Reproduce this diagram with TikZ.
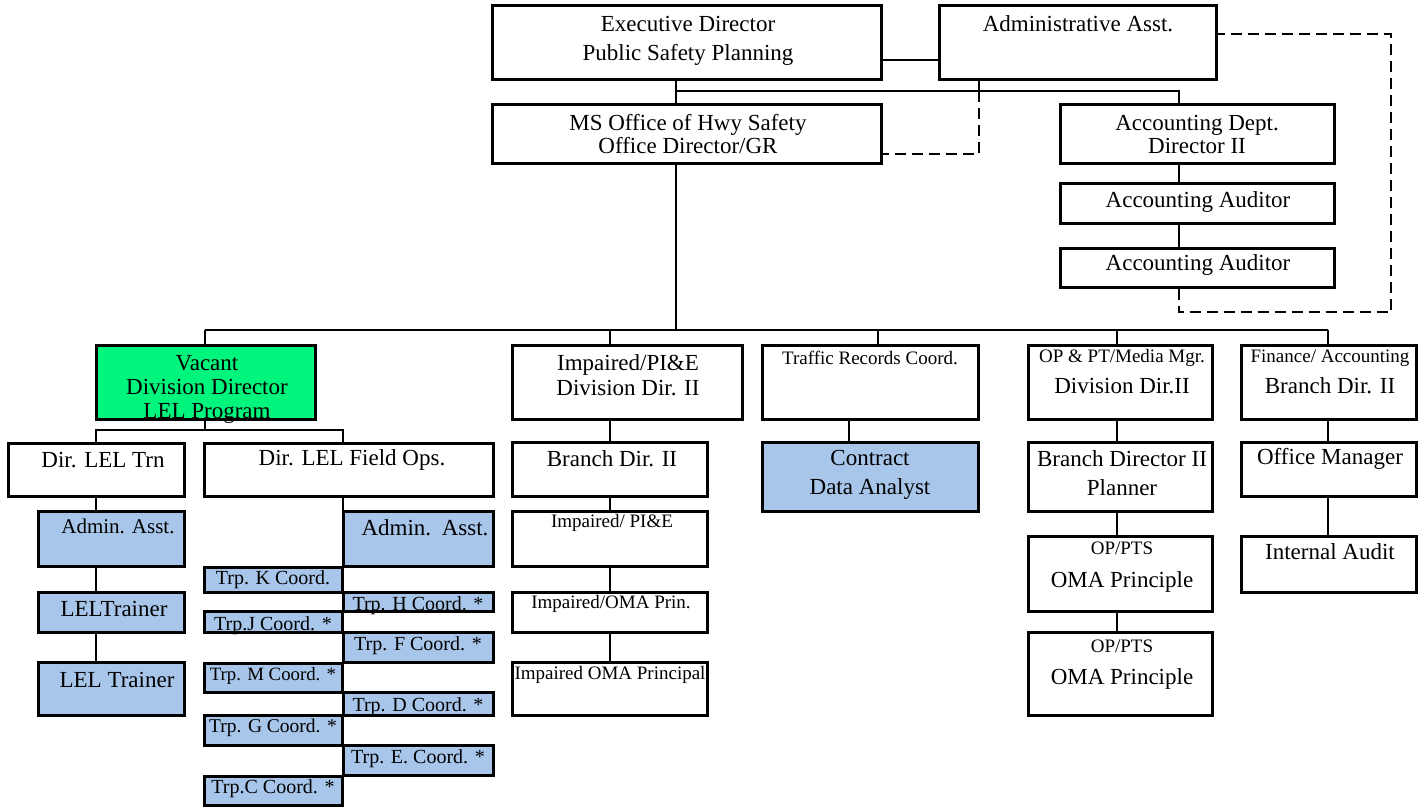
\documentclass[tikz,border=0pt]{standalone}
\usepackage{fontspec}
\setmainfont{Liberation Serif}
\usetikzlibrary{fit}
\definecolor{vacantgreen}{RGB}{0,245,125}
\definecolor{posblue}{RGB}{168,198,234}

\begin{document}
\begin{tikzpicture}[x=1pt, y=-1pt,
    box/.style={draw=black, line width=3pt, fill=white, inner sep=0pt},
    bluebox/.style={box, fill=posblue},
    greenbox/.style={box, fill=vacantgreen},
    link/.style={line width=2.8pt},
    dashlink/.style={line width=2.8pt, dash pattern=on 11pt off 6pt},
    lbl/.style={inner sep=0pt, align=center, font=\fontsize{23}{28}\selectfont},
    lblsmall/.style={lbl, font=\fontsize{19}{23}\selectfont},
    lblcoord/.style={lbl, font=\fontsize{20}{24}\selectfont}]

    \useasboundingbox (0,0) rectangle (1424,807);

    % Executive level with its assistant and the accounting branch
    \node[box, fit={(492,5) (881,79)}] (exec_dir) {};
    \node[box, fit={(939,5) (1216,79)}] (admin_asst) {};
    \node[box, fit={(492,104) (881,163)}] (ms_office) {};
    \node[box, fit={(1060,104) (1334,163)}] (acc_dept) {};
    \node[box, fit={(1060,183) (1334,223)}] (acc_aud1) {};
    \node[box, fit={(1060,248) (1334,287)}] (acc_aud2) {};

    \node[lbl, font=\fontsize{23}{29}\selectfont] (exec_dir_t) at (688,41) {Executive Director\\Public Safety Planning};
    \node[lbl] (admin_asst_t) at (1078,24) {Administrative Asst.};
    \node[lbl, font=\fontsize{23}{23}\selectfont] (ms_office_t) at (688,134) {MS Office of Hwy Safety\\Office Director/GR};
    \node[lbl, font=\fontsize{23}{23}\selectfont] (acc_dept_t) at (1197,134) {Accounting Dept.\\Director II};
    \node[lbl] (acc_aud1_t) at (1198,202) {Accounting Auditor};
    \node[lbl] (acc_aud2_t) at (1198,265) {Accounting Auditor};

    % Division heads
    \node[greenbox, fit={(96,345) (315,419)}] (vacant) {};
    \node[box, fit={(512,345) (742,419)}] (impaired) {};
    \node[box, fit={(762,345) (978,419)}] (traffic) {};
    \node[box, fit={(1028,345) (1212,419)}] (op_pt) {};
    \node[box, fit={(1241,345) (1416,419)}] (finance) {};

    \node[lbl, font=\fontsize{23}{24}\selectfont] (vacant_t) at (207,389) {Vacant\\Division Director\\LEL Program};
    \node[lbl, font=\fontsize{23}{25}\selectfont] (impaired_t) at (628,375) {Impaired/PI\&E\\Division Dir. II};
    \node[lblsmall] (traffic_t) at (870,358) {Traffic Records Coord.};
    \node[lblsmall] (op_pt_t1) at (1122,358) {OP \& PT/Media Mgr.};
    \node[lbl] (op_pt_t2) at (1122,386) {Division Dir.II};
    \node[lblsmall] (finance_t1) at (1330,358) {Finance/ Accounting};
    \node[lbl] (finance_t2) at (1330,386) {Branch Dir. II};

    % LEL program
    \node[box, fit={(8,443) (184,496)}] (lel_trn) {};
    \node[box, fit={(204,443) (493,496)}] (lel_field) {};
    \node[bluebox, fit={(38,511) (184,566)}] (trn_admin) {};
    \node[bluebox, fit={(38,592) (184,632)}] (trainer1) {};
    \node[bluebox, fit={(38,662) (184,715)}] (trainer2) {};
    \node[bluebox, fit={(343,511) (493,566)}] (field_admin) {};

    \node[lbl] (lel_trn_t) at (103,460) {Dir. LEL Trn};
    \node[lbl] (lel_field_t) at (352,460) {Dir. LEL Field Ops.};
    \node[lbl, font=\fontsize{21}{25}\selectfont] (trn_admin_t) at (118,526) {Admin. Asst.};
    \node[lbl] (trainer1_t) at (114,609) {LELTrainer};
    \node[lbl] (trainer2_t) at (117,680) {LEL Trainer};
    \node[lbl] (field_admin_t) at (425,528) {Admin.\hspace{3pt} Asst.};

    % troop coordinators on both sides of the field ops line
    \foreach \n/\xa/\ya/\xb/\yb/\ty/\fs/\txt in {
        trp_k/204/567/342/592/580/20/{Trp. K Coord.},
        trp_h/343/592/493/611/606/20/{Trp. H Coord. *},
        trp_j/204/611/342/632/626/20/{Trp.J Coord. *},
        trp_f/343/632/493/662/646/20/{Trp. F Coord. *},
        trp_m/204/663/342/692/676/18.8/{Trp. M Coord. *},
        trp_d/343/692/493/715/707/20/{Trp. D Coord. *},
        trp_g/204/715/342/745/728/19.5/{Trp. G Coord. *},
        trp_e/343/745/493/775/759/20/{Trp. E. Coord. *},
        trp_c/204/776/342/805/789/20/{Trp.C Coord. *}} {
        \node[bluebox, fit={(\xa,\ya) (\xb,\yb)}] (\n) {};
        \node[lbl, font=\fontsize{\fs}{24}\selectfont] (\n_t) at ({(\xa+\xb)/2},\ty) {\txt};
    }

    % Impaired column
    \node[box, fit={(512,442) (707,496)}] (imp_branch) {};
    \node[box, fit={(512,511) (707,566)}] (imp_pie) {};
    \node[box, fit={(512,592) (707,632)}] (imp_oma1) {};
    \node[box, fit={(512,662) (707,715)}] (imp_oma2) {};

    \node[lbl] (imp_branch_t) at (612,459) {Branch Dir. II};
    \node[lblsmall] (imp_pie_t) at (612,523) {Impaired/ PI\&E};
    \node[lblsmall] (imp_oma1_t) at (611,604) {Impaired/OMA Prin.};
    \node[lblsmall] (imp_oma2_t) at (610,675) {Impaired OMA Principal};

    % Traffic records
    \node[bluebox, fit={(762,442) (978,511)}] (data_analyst) {};
    \node[lbl, font=\fontsize{23}{29}\selectfont] (data_analyst_t) at (870,475) {Contract\\Data Analyst};

    % OP and PT column
    \node[box, fit={(1028,442) (1212,511)}] (op_branch) {};
    \node[box, fit={(1028,536) (1212,611)}] (op_pts1) {};
    \node[box, fit={(1028,632) (1212,715)}] (op_pts2) {};

    \node[lbl, font=\fontsize{23}{29}\selectfont] (op_branch_t) at (1122,473) {Branch Director II\\Planner};
    \node[lblsmall] (op_pts1_t1) at (1122,548) {OP/PTS};
    \node[lbl] (op_pts1_t2) at (1122,582) {OMA Principle};
    \node[lblsmall] (op_pts2_t1) at (1122,646) {OP/PTS};
    \node[lbl] (op_pts2_t2) at (1122,679) {OMA Principle};

    % Finance column
    \node[box, fit={(1241,442) (1416,496)}] (office_mgr) {};
    \node[box, fit={(1241,536) (1416,592)}] (int_audit) {};
    \node[lbl] (office_mgr_t) at (1330,459) {Office Manager};
    \node[lbl] (int_audit_t) at (1330,552) {Internal Audit};

    % connectors at the top
    \coordinate (bus1_l) at (676,91);
    \coordinate (bus1_m) at (979,91);
    \coordinate (bus1_r) at (1179,91);
    \coordinate (dash_c) at (1391,312);
    \draw[link] ([yshift=-18pt]exec_dir.east) -- ([yshift=-18pt]admin_asst.west);
    \draw[link] (exec_dir.south -| bus1_l) -- (ms_office.north -| bus1_l);
    \draw[link] (bus1_l) -- (bus1_r) -- (acc_dept.north -| bus1_r);
    \draw[link] (admin_asst.south -| bus1_m) -- (bus1_m);
    \draw[dashlink] (bus1_m) |- ([yshift=-20.5pt]ms_office.east);
    \draw[link] (acc_dept.south -| bus1_r) -- (acc_aud1.north -| bus1_r);
    \draw[link] (acc_aud1.south -| bus1_r) -- (acc_aud2.north -| bus1_r);
    \draw[dashlink] (acc_aud2.south -| bus1_r) |- (dash_c) |- ([yshift=8pt]admin_asst.east);

    % main bus down to the divisions
    \coordinate (bus2_l) at (205,330);
    \coordinate (bus2_r) at (1328,330);
    \coordinate (imp_x) at (610,330);
    \coordinate (trf_x) at (878,330);
    \coordinate (trf_y) at (849,419);
    \coordinate (op_x) at (1117,330);
    \draw[link] (ms_office.south -| bus1_l) -- (bus1_l |- bus2_l);
    \draw[link] (bus2_l) -- (bus2_r);
    \draw[link] (bus2_l) -- (vacant.north -| bus2_l);
    \draw[link] (imp_x) -- (impaired.north -| imp_x);
    \draw[link] (trf_x) -- (traffic.north -| trf_x);
    \draw[link] (op_x) -- (op_pt.north -| op_x);
    \draw[link] (bus2_r) -- (finance.north -| bus2_r);

    \foreach \a/\b in {impaired/imp_branch, imp_branch/imp_pie, imp_pie/imp_oma1, imp_oma1/imp_oma2}
        \draw[link] (\a.south -| imp_x) -- (\b.north -| imp_x);
    \draw[link] (traffic.south -| trf_y) -- (data_analyst.north -| trf_y);
    \foreach \a/\b in {op_pt/op_branch, op_branch/op_pts1, op_pts1/op_pts2}
        \draw[link] (\a.south -| op_x) -- (\b.north -| op_x);
    \foreach \a/\b in {finance/office_mgr, office_mgr/int_audit}
        \draw[link] (\a.south -| bus2_r) -- (\b.north -| bus2_r);

    % LEL sub tree
    \coordinate (trn_x) at (96,430);
    \coordinate (fld_x) at (343,430);
    \draw[link] (vacant.south -| bus2_l) -- (bus2_l |- trn_x);
    \draw[link] (lel_trn.north -| trn_x) -- (trn_x) -- (fld_x) -- (lel_field.north -| fld_x);
    \foreach \a/\b in {lel_trn/trn_admin, trn_admin/trainer1, trainer1/trainer2}
        \draw[link] (\a.south -| trn_x) -- (\b.north -| trn_x);
    \draw[link] (lel_field.south -| fld_x) -- (trp_c.south -| fld_x);

\end{tikzpicture}
\end{document}
